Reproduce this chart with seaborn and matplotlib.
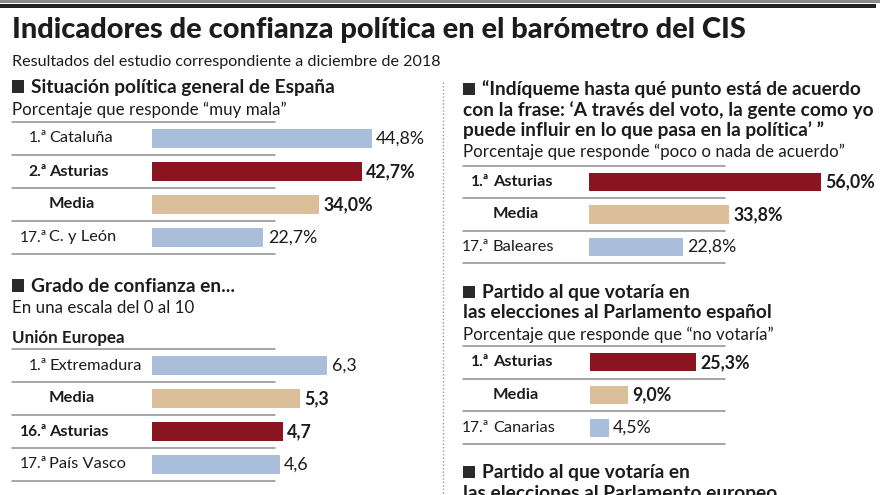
import matplotlib
matplotlib.use("Agg")
import matplotlib.pyplot as plt
from matplotlib.transforms import blended_transform_factory
from matplotlib.lines import Line2D
from matplotlib.patches import Rectangle
import seaborn as sns
import pandas as pd

# ---------------- data ----------------
title = "Indicadores de confianza política en el barómetro del CIS"
subtitle = "Resultados del estudio correspondiente a diciembre de 2018"

sit_header = "Situación política general de España"
sit_sub = "Porcentaje que responde \u201cmuy mala\u201d"
sit_ranks = ["1.ª", "2.ª", "", "17.ª"]
sit_names = ["Cataluña", "Asturias", "Media", "C. y León"]
sit_values = [44.8, 42.7, 34.0, 22.7]
sit_labels = ["44,8%", "42,7%", "34,0%", "22,7%"]

conf_header = "Grado de confianza en..."
conf_sub = "En una escala del 0 al 10"
conf_group = "Unión Europea"
conf_ranks = ["1.ª", "", "16.ª", "17.ª"]
conf_names = ["Extremadura", "Media", "Asturias", "País Vasco"]
conf_values = [6.3, 5.3, 4.7, 4.6]
conf_labels = ["6,3", "5,3", "4,7", "4,6"]

voto_header = ["\u201cIndíqueme hasta qué punto está de acuerdo",
               "con la frase: \u2018A través del voto, la gente como yo",
               "puede influir en lo que pasa en la política\u2019 \u201d"]
voto_sub = "Porcentaje que responde \u201cpoco o nada de acuerdo\u201d"
voto_ranks = ["1.ª", "", "17.ª"]
voto_names = ["Asturias", "Media", "Baleares"]
voto_values = [56.0, 33.8, 22.8]
voto_labels = ["56,0%", "33,8%", "22,8%"]

esp_header = ["Partido al que votaría en", "las elecciones al Parlamento español"]
esp_sub = "Porcentaje que responde que \u201cno votaría\u201d"
esp_ranks = ["1.ª", "", "17.ª"]
esp_names = ["Asturias", "Media", "Canarias"]
esp_values = [25.3, 9.0, 4.5]
esp_labels = ["25,3%", "9,0%", "4,5%"]

eur_header = ["Partido al que votaría en", "las elecciones al Parlamento europeo"]

# ---------------- style ----------------
BLUE = "#a8bedb"
RED = "#8b1421"
TAN = "#dbbe9a"
TXT = "#1c1c1c"
RULE = "#8e8e8e"
FAM = ["Lato", "DejaVu Sans"]

HEAD = 13.8
SUB = 12.2
NAME = 11.8
RANK = 11.2
VAL = 12.8

def color_for(name):
    if name == "Asturias":
        return RED
    if name == "Media":
        return TAN
    return BLUE

sns.set_theme(style="white")
plt.rcParams["font.family"] = FAM

W, H = 880, 495
fig = plt.figure(figsize=(W / 100, H / 100), dpi=100)
fig.patch.set_facecolor("white")

def fx(px):
    return px / W

def fy(py):
    return 1 - py / H

def ftext(x, y, s, size, weight="normal", **kw):
    fig.text(fx(x), fy(y), s, fontsize=size, fontweight=weight,
             color=TXT, va="baseline", ha="left", family=FAM, **kw)

def square(x, y0, y1):
    fig.add_artist(Rectangle((fx(x), fy(y1)), fx(12), (y1 - y0) / H,
                             transform=fig.transFigure, facecolor="#2a2a2a",
                             edgecolor="none"))

def block(ranks, names, values, labels, bar_x, top, bottom, rank_x, name_x,
          line_x0, line_x1, scale, width_px=300):
    n = len(names)
    ax = fig.add_axes([fx(bar_x), fy(bottom), width_px / W, (bottom - top) / H])
    df = pd.DataFrame({"name": names, "value": values})
    pal = {nm: color_for(nm) for nm in names}
    sns.barplot(data=df, x="value", y="name", hue="name", palette=pal, orient="h",
                width=0.56, legend=False, ax=ax, saturation=1, edgecolor="none")
    ax.set_xlim(0, width_px / scale)
    ax.set_ylim(n - 0.5, -0.5)
    ax.axis("off")
    tr = blended_transform_factory(fig.transFigure, ax.transData)
    for i in range(n + 1):
        ax.add_line(Line2D([fx(line_x0), fx(line_x1)], [i - 0.5, i - 0.5],
                           transform=tr, color=RULE, lw=1.1, clip_on=False))
    for i, (r, nm, v, lab) in enumerate(zip(ranks, names, values, labels)):
        bold = nm in ("Asturias", "Media")
        w = "bold" if bold else "normal"
        ax.text(fx(rank_x), i, r, transform=tr, ha="right", va="center",
                fontsize=RANK, fontweight=w, color=TXT, family=FAM)
        ax.text(fx(name_x), i, nm, transform=tr, ha="left", va="center",
                fontsize=NAME, fontweight=w, color=TXT, family=FAM)
        ax.annotate(lab, xy=(v, i), xytext=(3, 0), textcoords="offset points",
                    ha="left", va="center", fontsize=VAL, fontweight=w,
                    color=TXT, family=FAM)
    return ax

# top rules
fig.add_artist(Rectangle((0, fy(2.6)), 1, 2.6 / H, transform=fig.transFigure,
                         facecolor="#8a8a8a", edgecolor="none"))
fig.add_artist(Rectangle((0, fy(8)), fx(876), 4 / H, transform=fig.transFigure,
                         facecolor="#222222", edgecolor="none"))

# title + subtitle
ftext(12, 38, title, 20.9, weight="black")
ftext(12, 66, subtitle, 11.6)

# vertical dotted separator
fig.add_artist(Line2D([fx(443), fx(443)], [fy(82), fy(495)], transform=fig.transFigure,
                      color="#9a9a9a", lw=1, linestyle=(0, (1, 1.5))))

# ---------- left: situación política ----------
square(12, 80, 93)
ftext(31, 93, sit_header, HEAD, weight="bold")
ftext(12, 115, sit_sub, SUB)
block(sit_ranks, sit_names, sit_values, sit_labels, bar_x=152, top=122, bottom=254,
      rank_x=47, name_x=49, line_x0=12, line_x1=275, scale=4.91)

# ---------- left: grado de confianza ----------
square(12, 279, 292)
ftext(31, 292, conf_header, HEAD, weight="bold")
ftext(12, 313, conf_sub, SUB)
ftext(12, 343, conf_group, SUB, weight="bold")
block(conf_ranks, conf_names, conf_values, conf_labels, bar_x=152, top=349, bottom=481,
      rank_x=47, name_x=49, line_x0=12, line_x1=275, scale=27.85)

# ---------- right: voto influye ----------
square(463, 83, 95)
ftext(482, 95, voto_header[0], HEAD, weight="bold")
ftext(463, 116, voto_header[1], HEAD, weight="bold")
ftext(463, 136, voto_header[2], HEAD, weight="bold")
ftext(463, 157, voto_sub, SUB)
block(voto_ranks, voto_names, voto_values, voto_labels, bar_x=589, top=166, bottom=263,
      rank_x=489, name_x=493, line_x0=463, line_x1=725, scale=4.14)

# ---------- right: parlamento español ----------
square(463, 286, 298)
ftext(482, 298, esp_header[0], HEAD, weight="bold")
ftext(463, 318, esp_header[1], HEAD, weight="bold")
ftext(463, 340, esp_sub, SUB)
block(esp_ranks, esp_names, esp_values, esp_labels, bar_x=590, top=346, bottom=444,
      rank_x=489, name_x=493, line_x0=463, line_x1=725, scale=4.2)

# ---------- right: parlamento europeo (cut by frame, as in the original) ----------
square(463, 466, 478)
ftext(482, 478, eur_header[0], HEAD, weight="bold")
ftext(463, 499, eur_header[1], HEAD, weight="bold")

fig.savefig("out.png", dpi=100, facecolor="white")
